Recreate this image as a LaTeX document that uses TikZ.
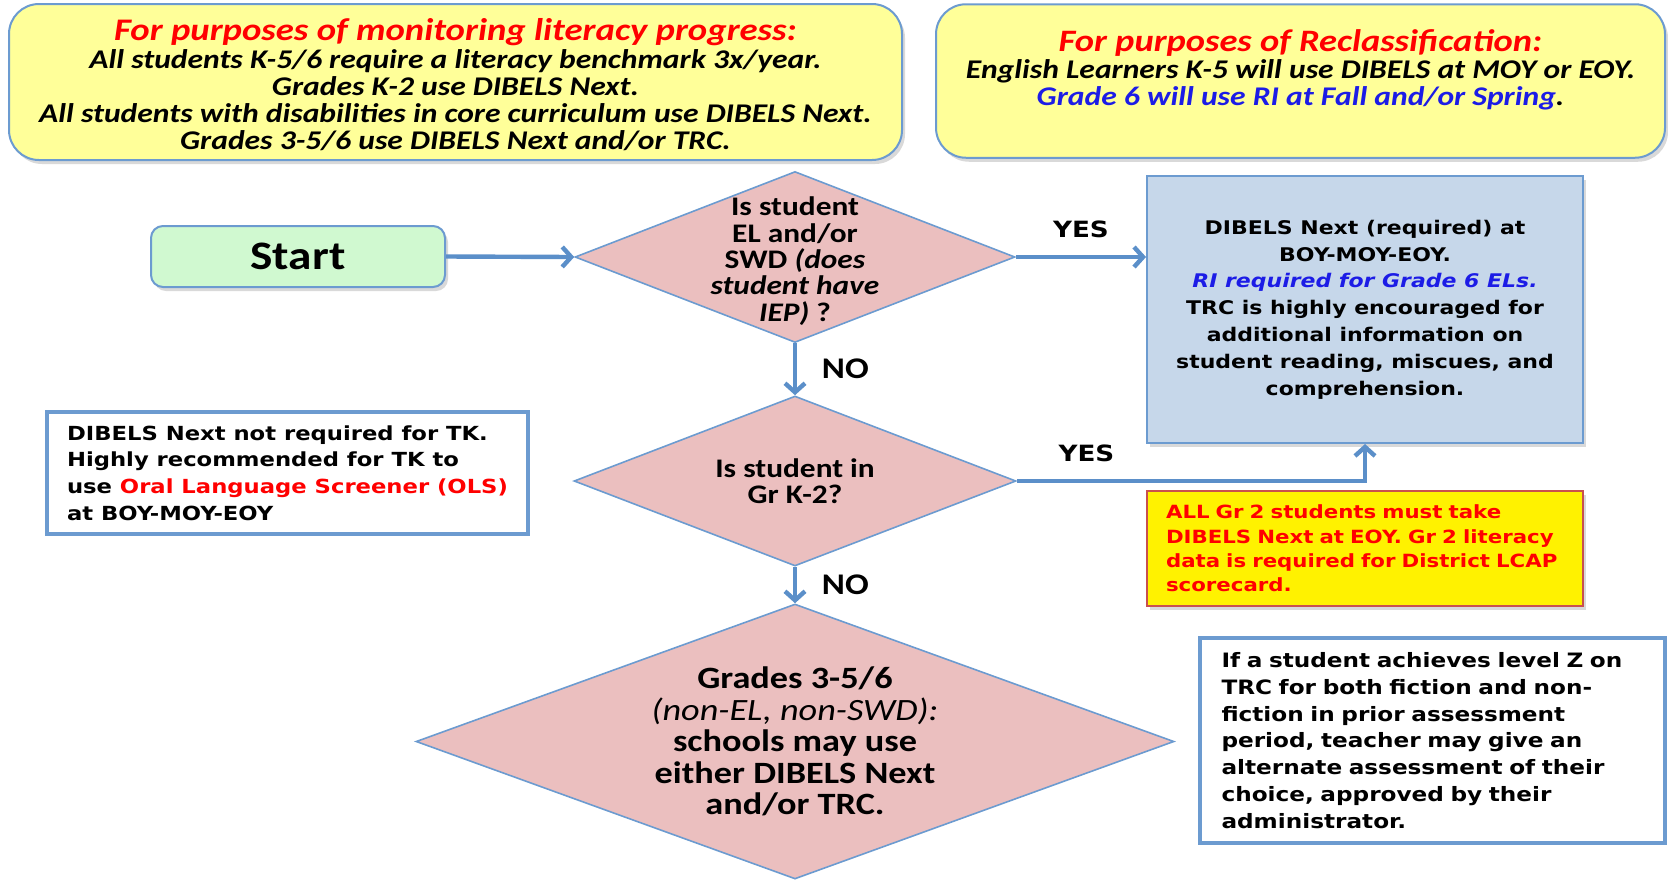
\documentclass[tikz,border=0pt]{standalone}
\usepackage{fontspec}
\setmainfont{Carlito}[FakeStretch=1.17]
\newfontfamily\vfont{DejaVu Sans}[FakeStretch=1.17]
\usepackage{xcolor}
\usetikzlibrary{shapes,arrows.meta,positioning,calc,shadows}

\definecolor{noteyellow}{HTML}{FFFF99}
\definecolor{edgeblue}{HTML}{6C9BD0}
\definecolor{startgreen}{HTML}{D0F9D0}
\definecolor{askpink}{HTML}{EBBFBF}
\definecolor{infoblue}{HTML}{C6D7EA}
\definecolor{flowblue}{HTML}{5B8FC9}
\definecolor{warnred}{HTML}{C9504D}
\definecolor{txtred}{HTML}{FF0000}
\definecolor{txtblue}{HTML}{1C1CE6}

\tikzset{
    softshadow/.style={drop shadow={opacity=0.3, shadow xshift=1.5pt, shadow yshift=-2pt}},
    notebox/.style={draw=edgeblue, line width=1pt, fill=noteyellow, rounded corners=15pt, softshadow},
    notetext/.style={align=center, font=\fontsize{13.5}{13.6}\selectfont\bfseries\itshape},
    ask/.style={diamond, draw=edgeblue, line width=0.8pt, fill=askpink, inner sep=0pt},
    asktext/.style={align=center, font=\fontsize{13.4}{13.2}\selectfont\bfseries},
    infobox/.style={draw=edgeblue, line width=1pt, fill=infoblue, softshadow, align=center,
        font=\vfont\fontsize{9.4}{13.4}\selectfont\bfseries},
    whitebox/.style={draw=edgeblue, line width=2.2pt, fill=white, align=left, inner xsep=10pt,
        font=\vfont\fontsize{9.9}{13.4}\selectfont\bfseries},
    flow/.style={draw=flowblue, line width=2.2pt, -{Straight Barb[length=4.5pt,width=10pt]}},
    yesno/.style={font=\vfont\fontsize{11.2}{12}\selectfont\bfseries},
    nolabel/.style={font=\fontsize{15}{16}\selectfont\bfseries}
}

\begin{document}
\begin{tikzpicture}[x=0.5pt, y=-0.5pt]
    \useasboundingbox (0,0) rectangle (1668,879);

    \node[notebox, minimum width=446.5pt, minimum height=78pt,
        label={[notetext, yshift=-1.5pt]center:{{\fontsize{15.7}{14}\selectfont\color{txtred}For purposes of monitoring literacy progress:}\\
         All students K-5/6 require a literacy benchmark 3x/year.\\
         Grades K-2 use DIBELS Next.\\
         All students with disabilities in core curriculum use DIBELS Next.\\
         Grades 3-5/6 use DIBELS Next and/or TRC.}}] (monitor) at (455.5,82) {};

    \node[notebox, minimum width=364.5pt, minimum height=76.75pt,
        label={[notetext, yshift=5.5pt]center:{{\fontsize{15.6}{14}\selectfont\color{txtred}For purposes of Reclassification:}\\
         English Learners K-5 will use DIBELS at MOY or EOY.\\
         \textcolor{txtblue}{Grade 6 will use RI at Fall and/or Spring}.}}] (reclass) at (1300.5,81) {};

    \node[draw=edgeblue, line width=1pt, fill=startgreen, rounded corners=6pt, softshadow,
        minimum width=147pt, minimum height=30.5pt, font=\fontsize{20.2}{22}\selectfont\bfseries] (start) at (298,256.5) {Start};

    \node[ask, minimum width=220pt, minimum height=85.5pt,
        label={[asktext, yshift=-2pt]center:{Is student\\EL and/or\\SWD \textit{(does}\\\textit{student have}\\\textit{IEP)} ?}}] (q1) at (795,257) {};
    \node[ask, minimum width=221pt, minimum height=85pt,
        label={[asktext]center:{Is student in\\Gr K-2?}}] (q2) at (795,481) {};
    \node[ask, minimum width=379pt, minimum height=137.5pt,
        label={[asktext, font=\fontsize{15.5}{15.8}\selectfont\bfseries]center:{Grades 3-5/6\\\textmd{\textit{(non-EL, non-SWD):}}\\schools may use\\either DIBELS Next\\and/or TRC.}}] (q3) at (795,741.5) {};

    \node[infobox, minimum width=218pt, minimum height=133.5pt] (info) at (1365,309.5)
        {DIBELS Next (required) at\\BOY-MOY-EOY.\\
         \textcolor{txtblue}{\itshape RI required for Grade 6 ELs.}\\
         TRC is highly encouraged for\\additional information on\\student reading, miscues, and\\comprehension.};

    \node[draw=warnred, line width=1pt, fill=yellow, softshadow, align=left, text=txtred,
        minimum width=218pt, minimum height=57.5pt, text width=199pt, inner xsep=9.5pt,
        font=\vfont\fontsize{9.1}{12.2}\selectfont\bfseries] (gradetwo) at (1365,548.5)
        {ALL Gr 2 students must take\\DIBELS Next at EOY. Gr 2 literacy\\data is required for District LCAP\\scorecard.};

    \node[whitebox, minimum width=239.5pt, minimum height=61pt,
        font=\vfont\fontsize{9.7}{13.3}\selectfont\bfseries] (tk) at (287.5,473)
        {DIBELS Next not required for TK.\\Highly recommended for TK to\\
         use \textcolor{txtred}{Oral Language Screener (OLS)}\\at BOY-MOY-EOY};

    \node[whitebox, minimum width=232.5pt, minimum height=102.5pt, text width=211pt] (levelz) at (1432.5,740.5)
        {If a student achieves level Z on\\TRC for both fiction and non-\\fiction in prior assessment\\
         period, teacher may give an\\alternate assessment of their\\choice, approved by their\\administrator.};

    \draw[flow] (start.east) -- (q1.west);
    \draw[flow] (q1.east) -- node[yesno, above=5pt] {YES} (q1.east -| info.west);
    \draw[flow] (q1.south) -- node[nolabel, right=9pt] {NO} (q2.north);
    \draw[flow] (q2.east) -| node[yesno, pos=0.1, above=5pt] {YES} (info.south);
    \draw[flow] (q2.south) -- node[nolabel, right=9pt] {NO} (q3.north);
\end{tikzpicture}
\end{document}
